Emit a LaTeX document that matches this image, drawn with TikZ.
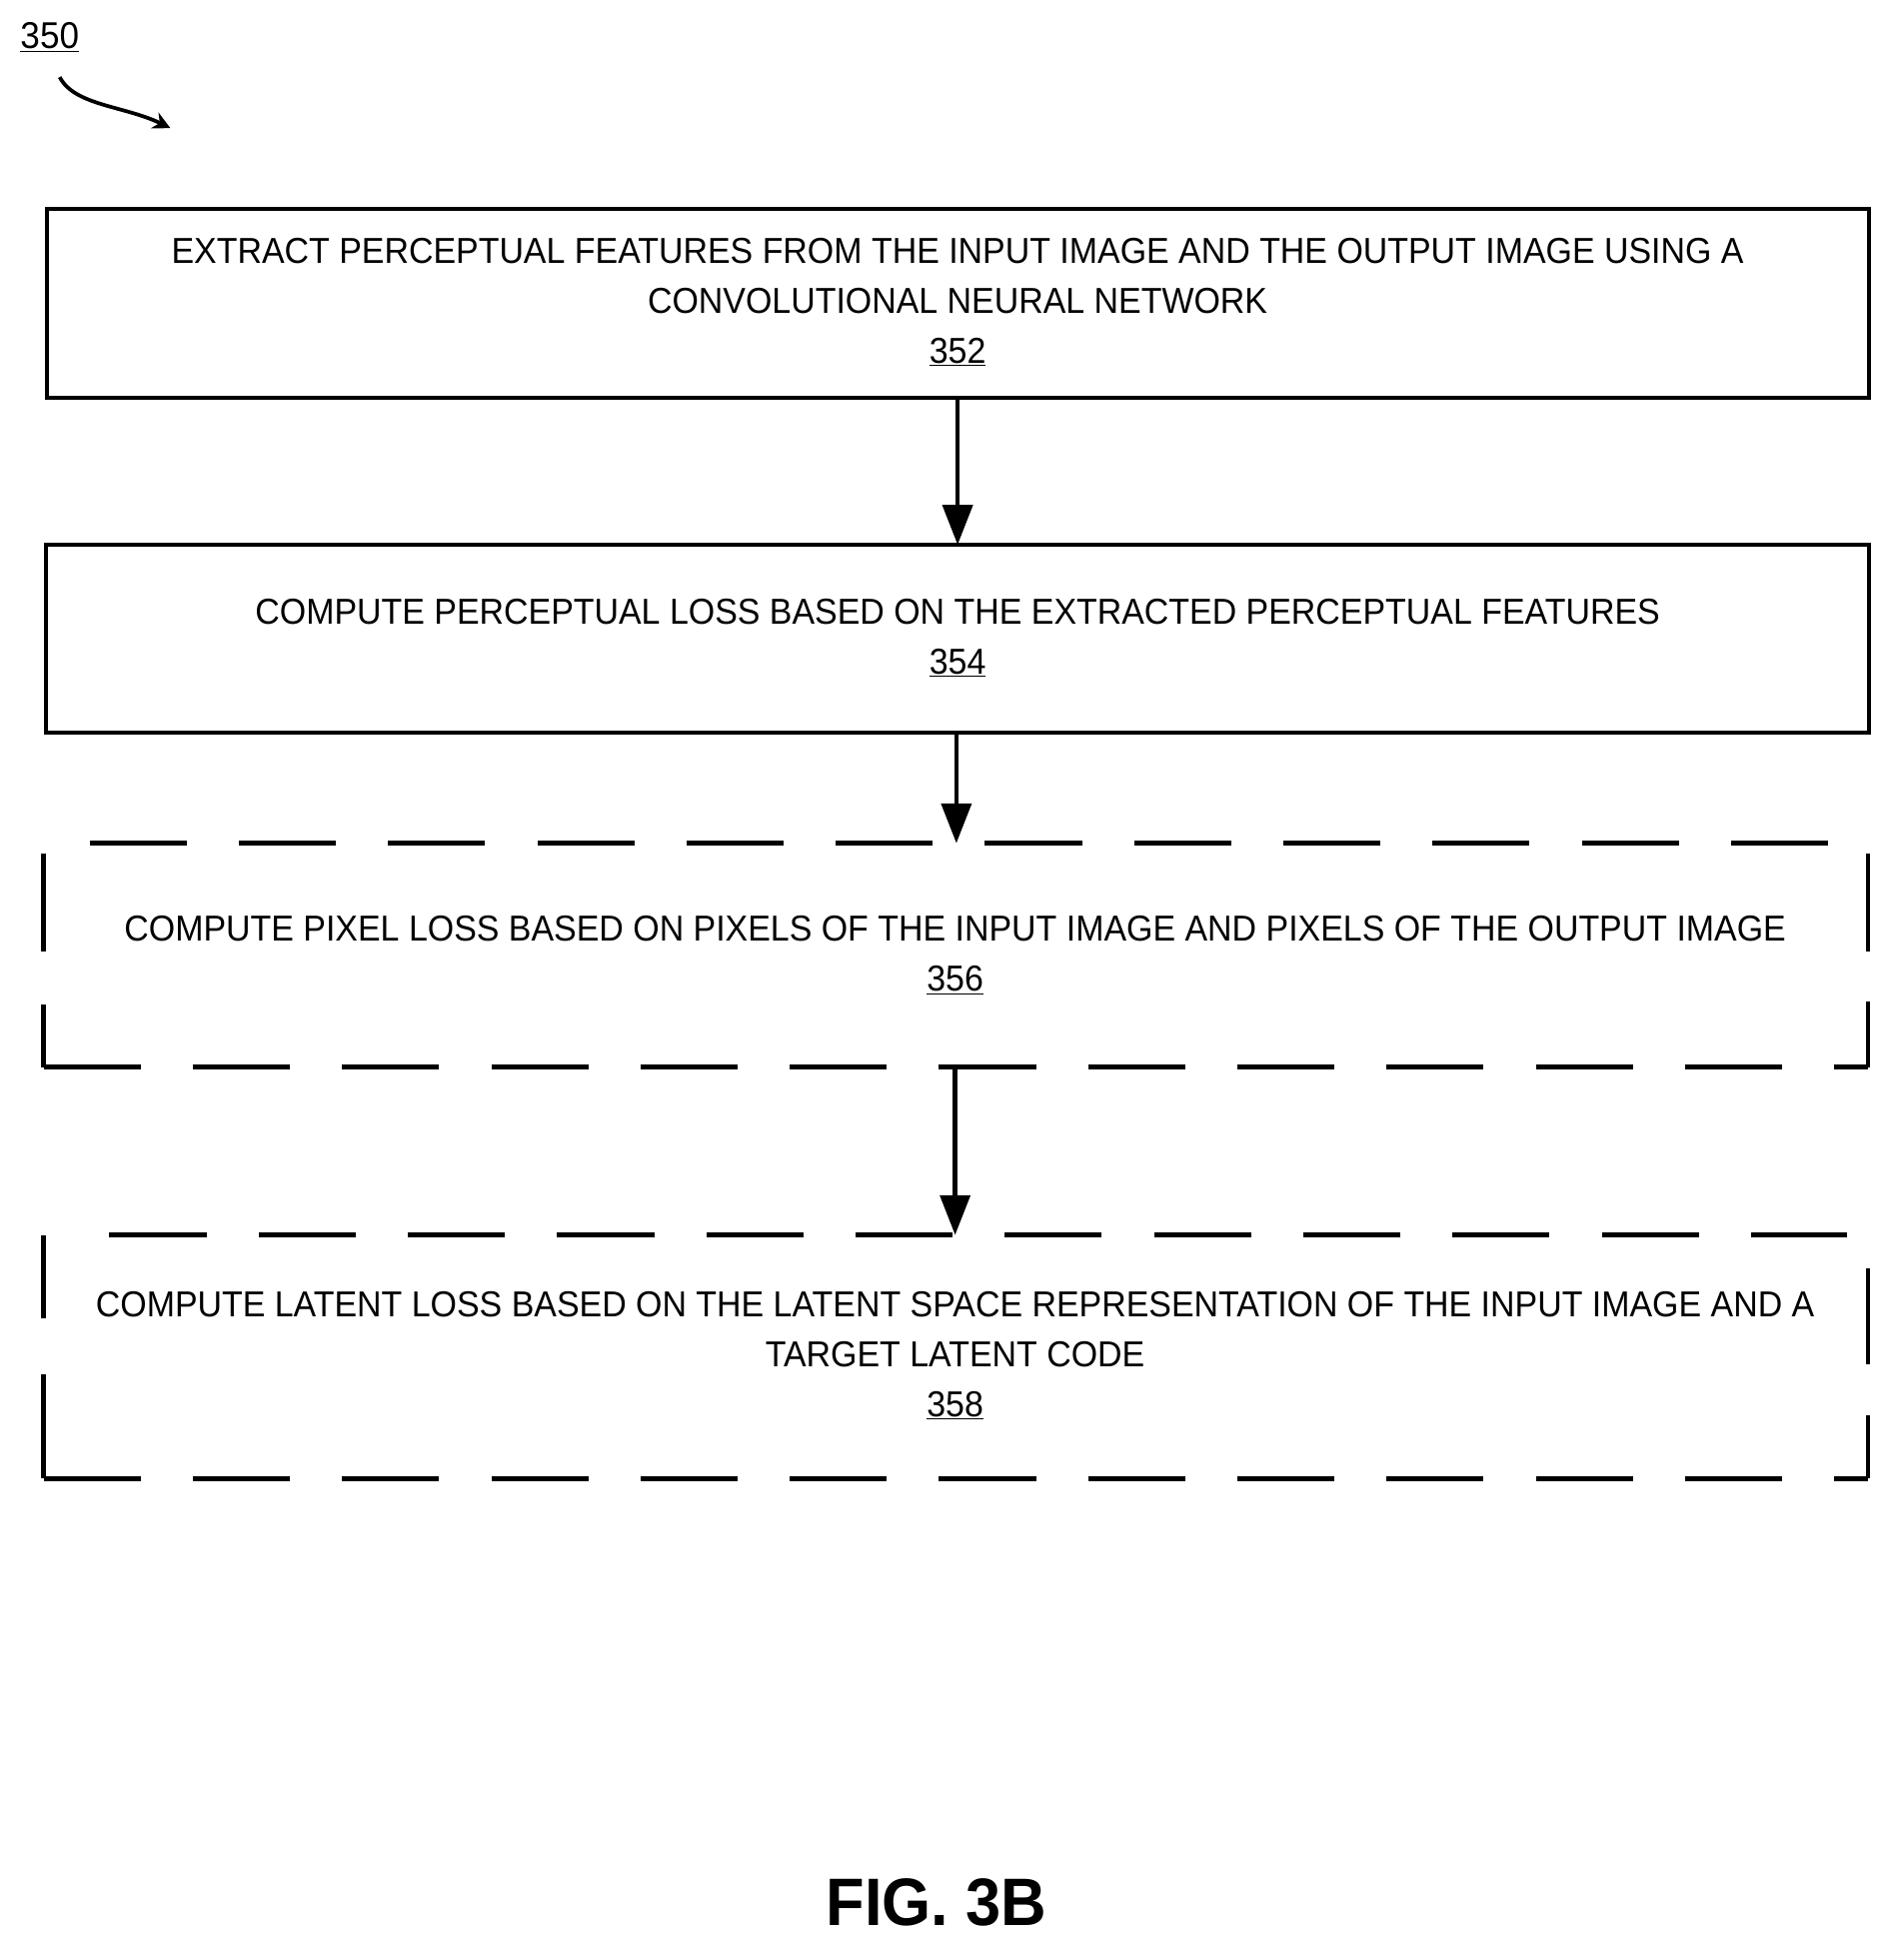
\documentclass[tikz,border=0pt]{standalone}
\usepackage{fontspec}
\setmainfont{Liberation Sans}[FakeStretch=0.94]
\usetikzlibrary{arrows.meta}
\begin{document}
\begin{tikzpicture}[x=1pt,y=-1pt,
  box/.style={draw,line width=3.5pt},
  dl/.style={draw,line width=3.5pt,dash pattern=on 78pt off 42pt},
  sl/.style={draw,line width=3.5pt},
  txt/.style={font=\fontsize{29}{40}\selectfont,align=center},
  arr/.style={line width=3.5pt,-{Triangle[length=32pt,width=24pt]}}]
\useasboundingbox (0,0) rectangle (1530,1576);
\draw[box] (38,168) rectangle (1503,320);
\draw[box] (37,438) rectangle (1503,589);
% dashed box 356
\draw[dl] (72,678) -- (1502,678);
\draw[dl] (35,858) -- (1502,858);
\draw[sl] (35,686) -- (35,765) (35,808) -- (35,858);
\draw[sl] (1502,686) -- (1502,765) (1502,805) -- (1502,858);
% dashed box 358
\draw[dl] (88,993) -- (1485,993);
\draw[dl] (35,1189) -- (1502,1189);
\draw[sl] (35,993) -- (35,1060) (35,1105) -- (35,1189);
\draw[sl] (1502,1020) -- (1502,1097) (1502,1138) -- (1502,1189);
\node[txt] (t1) at (770,243) {EXTRACT PERCEPTUAL FEATURES FROM THE INPUT IMAGE AND THE OUTPUT IMAGE USING A\\CONVOLUTIONAL NEURAL NETWORK\\\underline{352}};
\node[txt] (t2) at (770,513) {COMPUTE PERCEPTUAL LOSS BASED ON THE EXTRACTED PERCEPTUAL FEATURES\\\underline{354}};
\node[txt] (t3) at (768,768) {COMPUTE PIXEL LOSS BASED ON PIXELS OF THE INPUT IMAGE AND PIXELS OF THE OUTPUT IMAGE\\\underline{356}};
\node[txt] (t4) at (768,1090) {COMPUTE LATENT LOSS BASED ON THE LATENT SPACE REPRESENTATION OF THE INPUT IMAGE AND A\\TARGET LATENT CODE\\\underline{358}};
\coordinate (a1) at (770,320); \coordinate (b1) at (770,438);
\coordinate (a2) at (769,589); \coordinate (b2) at (769,678);
\coordinate (a3) at (768,858); \coordinate (b3) at (768,993);
\draw[arr] (a1) -- (b1);
\draw[arr] (a2) -- (b2);
\draw[arr] (a3) -- (b3);
\node[font=\fontsize{30}{34}\selectfont] (n350) at (40,30) {\underline{350}};
\coordinate (c0) at (48,62); \coordinate (c1) at (137,103);
\draw[line width=3pt,-{Stealth[length=14pt,width=14pt]}] (c0) .. controls (60,85) and (100,85) .. (c1);
\node[font=\fontsize{54}{60}\selectfont\bfseries] (fig) at (753,1530) {FIG. 3B};
\end{tikzpicture}
\end{document}
